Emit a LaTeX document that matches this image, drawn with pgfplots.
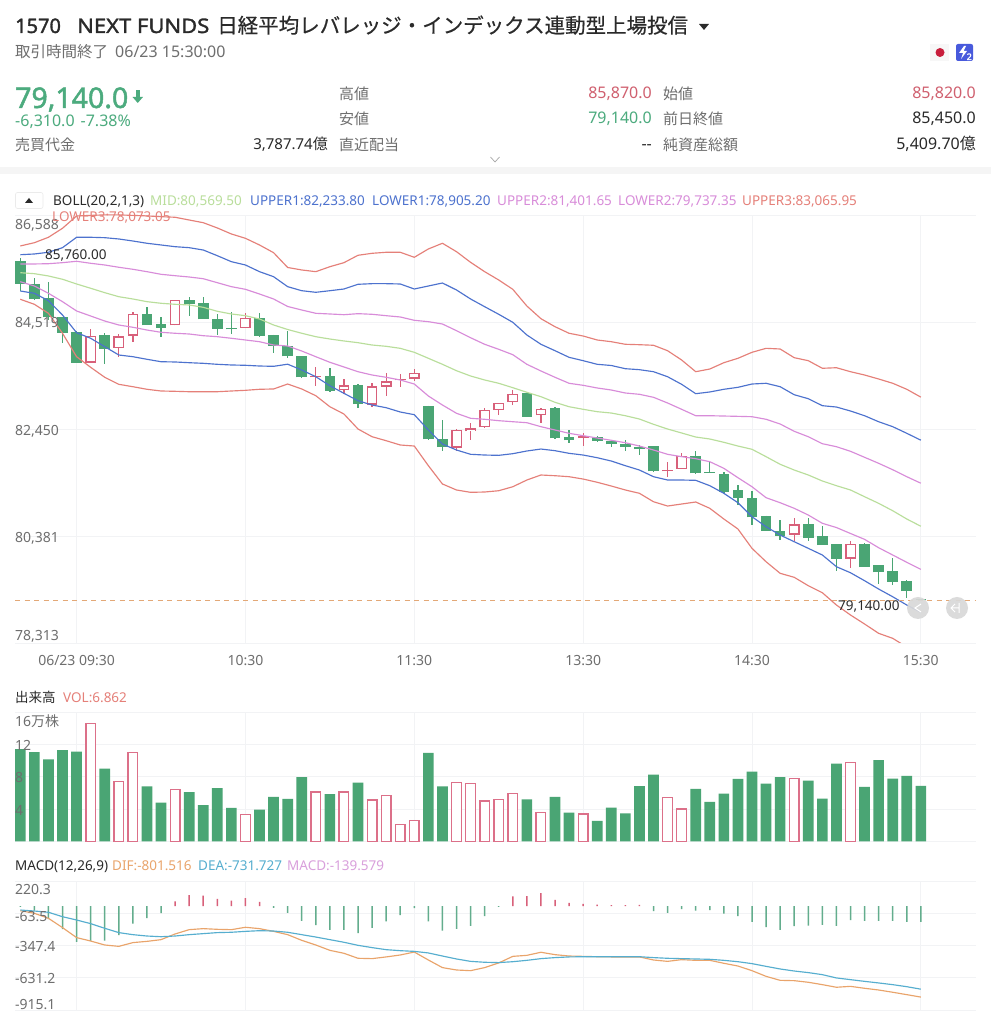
\documentclass[border=0pt]{standalone}
\usepackage{fontspec}
\usepackage{pgfplots}
\usepackage{pgfplotstable}
\pgfplotsset{compat=1.18}
\setmainfont{Noto Sans}
\newfontfamily\cjk{Noto Sans CJK JP}
\newfontfamily\cjkm[FakeBold=0.5]{Noto Sans CJK JP}
\newfontfamily\bfam[FakeBold=1.6]{Noto Sans}
\newfontfamily\bwide[FakeBold=1.6,FakeStretch=1.10]{Noto Sans}
\newcommand\J[1]{{\cjk #1}}
\definecolor{cg}{HTML}{4AA574}
\definecolor{cr}{HTML}{D8607A}
\definecolor{vr}{HTML}{DC7089}
\definecolor{cmid}{HTML}{B9DE9B}
\definecolor{cb}{HTML}{4D72CE}
\definecolor{cp}{HTML}{D88CD9}
\definecolor{co}{HTML}{E58079}
\definecolor{gridc}{HTML}{F2F3F5}
\definecolor{tickc}{HTML}{6E6E6E}
\definecolor{txt}{HTML}{2A2A2A}
\definecolor{hg}{HTML}{4CAB7E}
\definecolor{hr}{HTML}{D0606F}
\definecolor{cdif}{HTML}{E9A46B}
\definecolor{cdea}{HTML}{56AECF}
\definecolor{cmacd}{HTML}{D9A0DC}
\definecolor{cdash}{HTML}{E3A877}
\definecolor{flagr}{HTML}{C81E3C}
\definecolor{flagb}{HTML}{485ADC}
\definecolor{mg}{HTML}{63AD8D}
\newcommand\T[6][base west]{\node[anchor=#1,inner sep=0pt,text=#4,font=\fontsize{#5}{#5}\selectfont] at (#2pt,1024pt-#3pt) {#6};}
\newcommand\lbl[2]{\raisebox{#1}[8pt][2pt]{#2}}

% candles: index, open, high, low, close
\pgfplotstableread{
i o h l c
0 85705 85760 85119 85254
1 85254 85377 84945 84958
2 84984 85299 84558 84610
3 84610 84610 84120 84313
4 84320 84352 83733 83733
6 84262 84300 83714 83997
9 84681 84803 84455 84455
10 84474 84623 84223 84410
12 84951 84996 84635 84868
13 84880 85009 84571 84571
14 84584 84674 84275 84391
15 84403 84706 84281 84378
17 84597 84700 84236 84249
18 84268 84275 83927 84055
19 84055 84339 83830 83856
20 83861 83868 83436 83449
22 83468 83636 83172 83191
24 83307 83313 82862 82933
29 82901 82901 82244 82250
30 82263 82630 82031 82102
36 83146 83146 82682 82688
38 82862 82869 82263 82269
39 82289 82424 82179 82231
41 82302 82314 82198 82218
42 82224 82237 82095 82153
43 82166 82231 82024 82102
44 82108 82141 81941 82057
45 82121 82121 81625 81631
48 81928 82031 81586 81593
49 81612 81825 81593 81599
50 81573 81612 81219 81238
51 81264 81374 80987 81116
52 81109 81245 80587 80742
53 80774 80774 80484 80484
54 80484 80690 80304 80388
56 80607 80723 80284 80342
57 80375 80581 80207 80207
58 80226 80226 79711 79943
60 80226 80252 79775 79782
61 79814 79814 79453 79679
62 79704 79949 79427 79498
63 79505 79530 79189 79318
64 79170 79170 79140 79140
}\candG
\pgfplotstableread{
i o h l c
5 83733 84378 83733 84255
7 84017 84287 83836 84242
8 84255 84719 84139 84674
11 84455 84951 84455 84951
16 84403 84687 84403 84597
21 83462 83655 83281 83481
23 83204 83410 83127 83294
25 82920 83333 82869 83275
26 83268 83539 83094 83371
27 83391 83513 83255 83410
28 83423 83616 83378 83539
31 82089 82443 82031 82430
32 82405 82572 82231 82463
33 82482 82849 82469 82817
34 82817 82959 82727 82952
35 82972 83210 82914 83127
37 82714 82849 82572 82843
40 82276 82372 82128 82308
46 81631 81812 81515 81664
47 81677 81986 81677 81934
55 80407 80729 80291 80607
59 79943 80291 79769 80226
}\candR

% Bollinger bands
\pgfplotstableread{
i u3 u1 u2 mid l2 l1 l3
0 85989 85820 85641 85472 85298 85118 84958
1 86052 85834 85641 85453 85215 85074 84861
2 86157 85867 85646 85409 85074 84931 84687
3 86331 85956 85666 85345 84912 84654 84301
4 86569 86157 85693 85254 84732 84312 83848
5 86580 86157 85654 85171 84635 84204 83643
6 86590 86149 85621 85086 84538 84042 83450
7 86590 86124 85577 85008 84461 83881 83314
8 86580 86085 85538 84964 84417 83848 83268
9 86570 86041 85492 84912 84364 83798 83218
10 86555 86008 85441 84881 84320 83751 83185
11 86544 85975 85414 84861 84301 83746 83179
12 86491 85956 85389 84848 84287 83732 83171
13 86439 85911 85356 84803 84254 83720 83171
14 86337 85801 85279 84726 84235 83701 83171
15 86221 85685 85202 84674 84204 83688 83185
16 86137 85621 85151 84641 84171 83682 83198
17 86008 85492 85060 84577 84138 83668 83218
18 85859 85395 84964 84461 84074 83662 83224
19 85573 85202 84819 84374 84055 83703 83320
20 85525 85124 84751 84301 83958 83591 83224
21 85492 85093 84687 84235 83848 83461 83094
22 85588 85124 84674 84190 83740 83287 82881
23 85666 85157 84660 84152 83649 83140 82740
24 85809 85248 84680 84119 83558 82997 82450
25 85847 85260 84668 84074 83494 82914 82301
26 85867 85260 84641 84049 83450 82862 82224
27 85867 85254 84616 84010 83398 82779 82141
28 85770 85157 84552 83933 83320 82727 82121
29 85931 85215 84525 83817 83088 82431 81741
30 86041 85273 84480 83701 82914 82160 81387
31 85878 85138 84351 83577 82754 82044 81271
32 85673 84964 84215 83475 82657 81961 81226
33 85492 84815 84088 83398 82638 81947 81232
34 85331 84668 83991 83334 82611 81941 81257
35 85151 84513 83887 83249 82591 81973 81334
36 84828 84268 83701 83160 82572 82025 81464
37 84583 84088 83572 83075 82495 82063 81561
38 84428 83964 83450 82966 82431 82031 81547
39 84301 83836 83334 82881 82367 81980 81528
40 84248 83771 83295 82831 82321 81947 81483
41 84171 83701 83243 82785 82276 81895 81420
42 84138 83678 83204 82759 82232 81831 81348
43 84088 83616 83146 82707 82185 81741 81271
44 84080 83597 83121 82643 82121 81657 81207
45 84069 83558 83063 82541 82044 81528 81044
46 83964 83461 82953 82450 81961 81464 80961
47 83784 83314 82831 82373 81915 81464 81000
48 83558 83133 82707 82295 81876 81458 81039
49 83610 83166 82707 82257 81818 81354 80917
50 83732 83218 82701 82193 81690 81207 80710
51 83817 83256 82695 82121 81509 81025 80517
52 83933 83320 82688 82058 81334 80754 80143
53 84010 83334 82638 81915 81122 80561 79884
54 83997 83268 82547 81768 81025 80400 79660
55 83829 83113 82406 81657 80917 80271 79583
56 83771 83036 82301 81561 80787 80143 79420
57 83624 82901 82166 81445 80627 80014 79285
58 83635 82875 82108 81354 80545 79788 79047
59 83558 82798 82019 81271 80430 79671 78854
60 83494 82707 81903 81141 80317 79517 78680
61 83417 82591 81787 81013 80155 79356 78500
62 83334 82495 81663 80870 80014 79207 78403
63 83218 82367 81528 80710 79873 79047 78235
64 83066 82234 81402 80570 79737 78905 78073
}\boll

% MACD lines
\pgfplotstableread{
i dif dea
0 -41 -35
1 -64 -44
2 -108 -55
3 -190 -94
4 -278 -123
5 -308 -155
6 -343 -196
7 -355 -234
8 -322 -252
9 -311 -264
10 -296 -270
11 -246 -264
12 -208 -252
13 -199 -243
14 -205 -234
15 -208 -231
16 -187 -223
17 -199 -217
18 -223 -220
19 -252 -231
20 -302 -252
21 -343 -273
22 -390 -296
23 -416 -319
24 -460 -346
25 -463 -366
26 -448 -384
27 -431 -393
28 -405 -399
29 -475 -413
30 -542 -440
31 -563 -466
32 -569 -487
33 -542 -495
34 -501 -498
35 -443 -490
36 -434 -478
37 -407 -463
38 -428 -454
39 -440 -448
40 -443 -446
41 -446 -446
42 -448 -446
43 -448 -446
44 -448 -446
45 -475 -454
46 -487 -460
47 -472 -463
48 -478 -466
49 -478 -469
50 -504 -478
51 -528 -490
52 -569 -507
53 -619 -531
54 -654 -554
55 -657 -572
56 -671 -586
57 -692 -604
58 -715 -633
59 -707 -648
60 -724 -663
61 -739 -677
62 -759 -692
63 -780 -710
64 -801.5 -731.7
}\macdl

\pgfplotsset{
 bs/.style={
  scale only axis, width=961pt,
  xmin=-0.377, xmax=67.92,
  scaled ticks=false,
  axis line style={draw=none},
  major tick length=0pt,
  xtick={4,16,28,40,52,64},
  grid=major,
  grid style={color=gridc,line width=0.9pt},
  yticklabel style={anchor=west,inner sep=0pt,text=tickc,font=\fontsize{14}{14}\selectfont},
  xticklabel style={text=tickc,font=\fontsize{14}{14}\selectfont,yshift=-9pt},
 },
 band/.style={line width=1.15pt,mark=none,line join=round},
 wick/.style={only marks,mark options={draw=none,fill=none,opacity=0},forget plot,error bars/.cd,y dir=both,y explicit,error mark=none,
   error bar style={draw=#1,line width=1.3pt,solid}},
 body/.style 2 args={only marks,mark options={draw=none,fill=none,opacity=0},forget plot,error bars/.cd,y dir=plus,y explicit,error mark=none,
   error bar style={draw=#1,line width=#2,solid}},
}

\begin{document}
\begin{tikzpicture}
\path[use as bounding box,fill=white] (0,0) rectangle (991pt,1024pt);

% header
\T{15}{33}{txt}{20}{\bfam 1570}
\T{77}{33}{txt}{20}{\bwide NEXT FUNDS}
\T{217}{33}{txt}{20.5}{{\cjkm 日経平均レバレッジ・インデックス連動型上場投信}}
\fill[txt] (699pt,1024pt-24pt) -- (709pt,1024pt-24pt) -- (704pt,1024pt-30pt) -- cycle;
\T{15}{58}{tickc}{15.5}{\J{取引時間終了}\hspace{7pt}\fontsize{16}{16}\selectfont 06/23 15:30:00}
\T{15}{108}{hg}{28.5}{\bfam 79,140.0}
\fill[hg] (135.5pt,1024pt-90pt) rectangle (140pt,1024pt-98pt);
\fill[hg] (132.5pt,1024pt-97pt) -- (143pt,1024pt-97pt) -- (137.75pt,1024pt-103pt) -- cycle;
\T{15}{127}{hg}{16}{-6,310.0\hspace{6pt}-7.38\%}
\T{15}{151}{tickc}{15}{\J{売買代金}}
\T[base east]{328}{150}{txt}{15}{3,787.74\J{億}}
\T{339}{100}{tickc}{15}{\J{高値}}
\T{339}{125}{tickc}{15}{\J{安値}}
\T{339}{151}{tickc}{15}{\J{直近配当}}
\T[base east]{652}{99}{hr}{16}{85,870.0}
\T[base east]{652}{124}{hg}{16}{79,140.0}
\T[base east]{652}{150}{txt}{16}{-{}-}
\T{663}{100}{tickc}{15}{\J{始値}}
\T{663}{125}{tickc}{15}{\J{前日終値}}
\T{663}{151}{tickc}{15}{\J{純資産総額}}
\T[base east]{976}{99}{hr}{16}{85,820.0}
\T[base east]{976}{124}{txt}{16}{85,450.0}
\T[base east]{976}{150}{txt}{16}{5,409.70\J{億}}
\draw[color=black!35,line width=0.7pt] (490.5pt,1024pt-157pt) -- (495pt,1024pt-162pt) -- (499.5pt,1024pt-157pt);
\fill[black!4] (0pt,1024pt-167pt) rectangle (991pt,1024pt-174pt);
% flags
\fill[black!3] (930pt,1024pt-44pt) rectangle (949pt,1024pt-61pt);
\fill[flagr] (940pt,1024pt-52.5pt) circle (4.5pt);
\fill[flagb,rounded corners=2pt] (956pt,1024pt-44pt) rectangle (973pt,1024pt-61pt);
\fill[white] (964pt,1024pt-46pt) -- (959pt,1024pt-53pt) -- (963pt,1024pt-53pt) -- (961pt,1024pt-59pt) -- (967pt,1024pt-51pt) -- (963.5pt,1024pt-51pt) -- (966pt,1024pt-46pt) -- cycle;
\T{966.5}{60}{white}{9}{\bfam 2}

% indicator row
\draw[black!8,rounded corners=2pt,line width=0.6pt] (15.5pt,1024pt-192.5pt) rectangle (43pt,1024pt-208.5pt);
\fill[txt] (25pt,1024pt-203pt) -- (33pt,1024pt-203pt) -- (29pt,1024pt-198pt) -- cycle;
\T{53}{205.5}{txt}{13.5}{BOLL(20,2,1,3)}
\T{150}{205.5}{cmid}{13.5}{MID:80,569.50}
\T{250}{205.5}{cb}{13.5}{UPPER1:82,233.80}
\T{372}{205.5}{cb}{13.5}{LOWER1:78,905.20}
\T{497}{205.5}{cp}{13.5}{UPPER2:81,401.65}
\T{618}{205.5}{cp}{13.5}{LOWER2:79,737.35}
\T{742}{205.5}{co}{13.5}{UPPER3:83,065.95}

% price panel
\begin{axis}[bs,at={(15pt,381pt)},anchor=south west,height=428pt,
  ymin=78313,ymax=86588,
  ytick={78313,80381,82450,84519,86588},
  yticklabels={},
  xticklabels={06/23 09:30,10:30,11:30,13:30,14:30,15:30},
]
\addplot[wick=cg] table[x=i,y=o,y error plus expr=\thisrow{h}-\thisrow{o},y error minus expr=\thisrow{o}-\thisrow{l}]{\candG};
\addplot[wick=cr] table[x=i,y=o,y error plus expr=\thisrow{h}-\thisrow{o},y error minus expr=\thisrow{o}-\thisrow{l}]{\candR};
\addplot[body={cg}{10.7pt}] table[x=i,y=c,y error plus expr=\thisrow{o}-\thisrow{c}]{\candG};
\addplot[body={cr}{10.7pt}] table[x=i,y=o,y error plus expr=\thisrow{c}-\thisrow{o}]{\candR};
\addplot[body={white}{8pt}] table[x=i,y expr=\thisrow{o}+25,y error plus expr={max(\thisrow{c}-\thisrow{o}-50,0)}]{\candR};
\addplot[band,co] table[x=i,y=u3]{\boll};
\addplot[band,cb] table[x=i,y=u1]{\boll};
\addplot[band,cp] table[x=i,y=u2]{\boll};
\addplot[band,cmid] table[x=i,y=mid]{\boll};
\addplot[band,cp] table[x=i,y=l2]{\boll};
\addplot[band,cb] table[x=i,y=l1]{\boll};
\addplot[band,co] table[x=i,y=l3]{\boll};
\addplot[draw=cdash,line width=1.2pt,dash pattern=on 5pt off 4.5pt] coordinates {(-0.377,79140) (67.92,79140)};
\end{axis}
% tick labels of the price panel, over the candles
\begin{axis}[bs,grid=none,at={(15pt,381pt)},anchor=south west,height=428pt,
  ymin=78313,ymax=86588,
  ytick={78313,80381,82450,84519,86588},
  yticklabels={\lbl{5pt}{78,313},\lbl{-3pt}{80,381},\lbl{-3pt}{82,450},\lbl{-3pt}{84,519},\lbl{-12pt}{86,588}},
  xticklabels={},
]
\end{axis}
\T{52}{222}{co}{13.5}{LOWER3:78,073.05}
\T{45}{259.5}{txt}{13.5}{85,760.00}
\T{838}{611}{txt}{13.5}{79,140.00}
\fill[black!15,opacity=.92] (918pt,1024pt-608pt) circle (11pt);
\fill[black!15,opacity=.92] (957pt,1024pt-608pt) circle (11pt);
\draw[white,line width=1pt] (921pt,1024pt-604pt) -- (915pt,1024pt-608pt) -- (921pt,1024pt-612pt);
\draw[white,line width=1pt] (955pt,1024pt-604pt) -- (951pt,1024pt-608pt) -- (955pt,1024pt-612pt) (959pt,1024pt-603pt) -- (959pt,1024pt-613pt) (951pt,1024pt-608pt) -- (959pt,1024pt-608pt);

% volume panel
\T{15}{702.5}{txt}{13.5}{\J{出来高}}
\T{63}{702.5}{co}{13.5}{VOL:6.862}
\begin{axis}[bs,at={(15pt,182.5pt)},anchor=south west,height=129.5pt,
  ymin=0,ymax=16,ytick={0,4,8,12,16},
  yticklabels={},
  xticklabels={},
]
\addplot[ybar,bar shift=0pt,bar width=10.7pt,fill=cg,draw=none] coordinates {
(0,11.4)(1,11.03)(2,10.16)(3,11.28)(4,11.1)(6,9.0)(9,6.8)(10,4.8)(12,6.1)(13,4.5)(14,6.6)(15,4.16)(17,3.95)(18,5.5)(19,5.27)(20,7.94)(22,5.84)(24,7.28)(29,10.95)(30,6.8)(36,5.2)(38,5.5)(39,3.58)(41,2.55)(42,4.2)(43,3.46)(44,6.83)(45,8.27)(48,6.5)(49,4.9)(50,5.93)(51,7.74)(52,8.64)(53,7.16)(54,7.94)(56,7.53)(57,5.3)(58,9.63)(60,6.75)(61,10.04)(62,7.78)(63,8.1)(64,6.86)};
\addplot[ybar,bar shift=0pt,bar width=9.6pt,fill=white,draw=vr,line width=1.3pt] coordinates {
(5,14.6)(7,7.4)(8,11.03)(11,6.4)(16,3.3)(21,6.13)(23,6.13)(25,5.14)(26,5.72)(27,2.14)(28,2.63)(31,7.28)(32,7.2)(33,5.0)(34,5.2)(35,5.97)(37,3.58)(40,3.4)(46,5.43)(47,4.03)(55,7.82)(59,9.75)};
\end{axis}
\begin{axis}[bs,grid=none,at={(15pt,182.5pt)},anchor=south west,height=129.5pt,
  ymin=0,ymax=16,ytick={4,8,12,16},
  yticklabels={\lbl{-3pt}{4},\lbl{-3pt}{8},\lbl{-3pt}{12},\lbl{-12pt}{16\J{万株}}},
  xticklabels={},
]
\end{axis}

% MACD panel
\T{15}{870.5}{txt}{13.5}{MACD(12,26,9)}
\T{112}{870.5}{cdif}{13.5}{DIF:-801.516}
\T{198}{870.5}{cdea}{13.5}{DEA:-731.727}
\T{287}{870.5}{cmacd}{13.5}{MACD:-139.579}
\begin{axis}[bs,at={(15pt,14pt)},anchor=south west,height=129pt,
  ymin=-915.1,ymax=220.3,ytick={-915.1,-631.2,-347.4,-63.5,220.3},
  yticklabels={},
  xticklabels={},
]
\addplot[ybar,bar shift=0pt,bar width=1.5pt,fill=mg,draw=none] coordinates {
(0,-8)(1,-40)(2,-116)(3,-204)(4,-315)(5,-306)(6,-304)(7,-257)(8,-154)(9,-107)(10,-63)(18,-16)(19,-60)(20,-131)(21,-169)(22,-210)(23,-210)(24,-239)(25,-192)(26,-136)(27,-81)(28,-19)(29,-136)(30,-216)(31,-201)(32,-175)(33,-89)(34,-7)(45,-45)(46,-60)(47,-28)(48,-40)(49,-37)(50,-66)(51,-89)(52,-139)(53,-186)(54,-210)(55,-177)(56,-172)(57,-166)(58,-175)(59,-125)(60,-131)(61,-131)(62,-131)(63,-139)(64,-139.6)};
\addplot[ybar,bar shift=0pt,bar width=1.5pt,fill=cr,draw=none] coordinates {
(11,40)(12,95)(13,92)(14,63)(15,48)(16,69)(17,37)(35,84)(36,87)(37,113)(38,54)(39,28)(40,19)(41,13)(42,7)(43,7)(44,10)};
\addplot[band,cdif] table[x=i,y=dif]{\macdl};
\addplot[band,cdea] table[x=i,y=dea]{\macdl};
\end{axis}
\begin{axis}[bs,grid=none,at={(15pt,14pt)},anchor=south west,height=129pt,
  ymin=-915.1,ymax=220.3,ytick={-915.1,-631.2,-347.4,-63.5,220.3},
  yticklabels={\lbl{4pt}{-915.1},\lbl{-3pt}{-631.2},\lbl{-3pt}{-347.4},\lbl{-5pt}{-63.5},\lbl{-11pt}{220.3}},
  xticklabels={},
]
\end{axis}
\end{tikzpicture}
\end{document}
